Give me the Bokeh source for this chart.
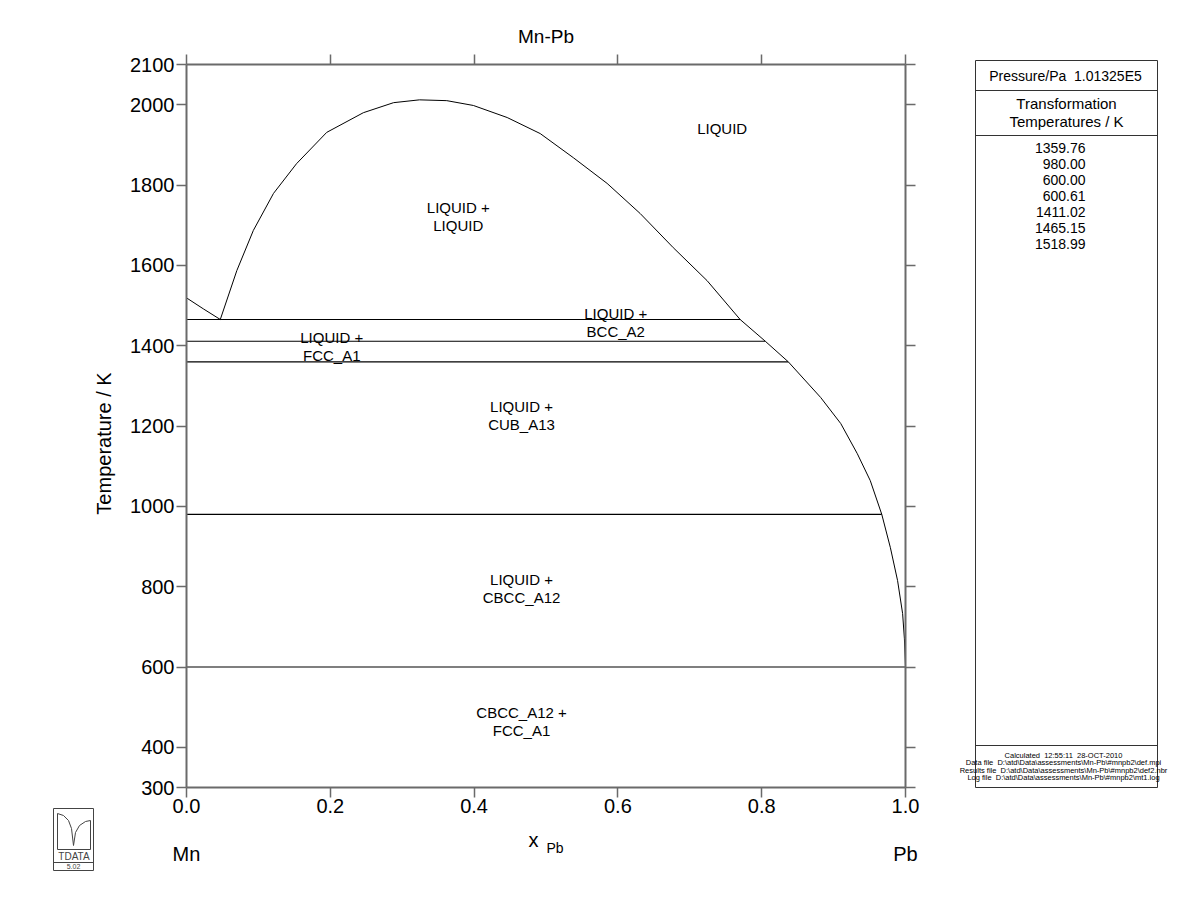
import math
from bokeh.plotting import figure
from bokeh.models import Range1d, LinearAxis, FixedTicker, PrintfTickFormatter
from bokeh.layouts import row, column
from bokeh.embed import file_html
from bokeh.resources import INLINE
from bokeh.core.properties import value

FONT = "Liberation Sans"

# ---------------- data ----------------
mn_liq_x = [0.0, 0.024, 0.047]
mn_liq_T = [1518.99, 1491.0, 1465.15]

gap_x = [0.047, 0.070, 0.093, 0.121, 0.153, 0.195, 0.246, 0.288, 0.324, 0.362,
         0.399, 0.446, 0.492, 0.538, 0.585, 0.631, 0.677, 0.724, 0.770]
gap_T = [1465.15, 1587, 1687, 1779, 1853, 1931, 1980, 2005, 2012, 2010,
         1998, 1968, 1928, 1868, 1804, 1729, 1644, 1562, 1465.15]

pb_liq_x = [0.770, 0.805, 0.837, 0.882, 0.910, 0.933, 0.951, 0.967, 0.979,
            0.989, 0.996, 0.9985, 1.0]
pb_liq_T = [1465.15, 1411.02, 1359.76, 1271, 1206, 1131, 1064, 980.0, 897,
            815, 733, 670, 600.61]

inv_T = [1465.15, 1411.02, 1359.76, 980.00, 600.00]
inv_x_start = [0.0, 0.0, 0.0, 0.0, 0.0]
inv_x_end = [0.770, 0.805, 0.837, 0.967, 1.0]

pb_side_x = [1.0, 1.0]
pb_side_T = [300.0, 600.0]

region_labels = ["LIQUID", "LIQUID +\nLIQUID", "LIQUID +\nBCC_A2", "LIQUID +\nFCC_A1",
                 "LIQUID +\nCUB_A13", "LIQUID +\nCBCC_A12", "CBCC_A12 +\nFCC_A1"]
region_x = [0.745, 0.378, 0.597, 0.202, 0.466, 0.466, 0.466]
region_T = [1941, 1722, 1458, 1397, 1227, 795, 464]

x_ticks = [0.0, 0.2, 0.4, 0.6, 0.8, 1.0]
T_ticks = [300, 400, 600, 800, 1000, 1200, 1400, 1600, 1800, 2000, 2100]
x_min, x_max = 0.0, 1.0
T_min, T_max = 300, 2100

components = ["Mn", "Pb"]
trans_temps = [1359.76, 980.00, 600.00, 600.61, 1411.02, 1465.15, 1518.99]
pressure_text = "Pressure/Pa\u00a0\u00a01.01325E5"
info_lines = ["Calculated\u00a0\u00a012:55:11\u00a0\u00a028-OCT-2010",
              "Data file\u00a0\u00a0D:\\atd\\Data\\assessments\\Mn-Pb\\#mnpb2\\def.mpi",
              "Results file\u00a0\u00a0D:\\atd\\Data\\assessments\\Mn-Pb\\#mnpb2\\def2.nbr",
              "Log file\u00a0\u00a0D:\\atd\\Data\\assessments\\Mn-Pb\\#mnpb2\\mt1.log"]

AXC = "#6a6a6a"
BL, BR, BT, BB = 66, 50, 64, 34   # borders of the diagram figure
FW = 719                          # frame width
TOP_H = 64 + 723 + BB             # height of the diagram figure
BOT_H = 923 - TOP_H


def no_align(fig):
    if "frame_align" in fig.properties():
        fig.frame_align = False


# ---------------- main diagram ----------------
p = figure(width=BL + FW + BR, height=TOP_H, x_range=Range1d(x_min, x_max),
           y_range=Range1d(T_min, T_max),
           output_backend="svg", toolbar_location=None,
           min_border_left=BL, min_border_right=BR, min_border_top=BT, min_border_bottom=BB)
no_align(p)
p.outline_line_color = None
p.grid.visible = False
p.background_fill_color = "white"
p.border_fill_color = "white"
p.title.text = "Mn-Pb"
p.title.align = "center"
p.title.text_font = FONT
p.title.text_font_size = "19px"
p.title.text_font_style = "normal"
p.title.text_color = "black"
p.title.standoff = 16

p.add_layout(LinearAxis(), "above")
p.add_layout(LinearAxis(), "right")

for ax in p.xaxis:
    ax.ticker = FixedTicker(ticks=x_ticks)
    ax.formatter = PrintfTickFormatter(format="%.1f")
for ax in p.yaxis:
    ax.ticker = FixedTicker(ticks=T_ticks)
for ax in p.axis:
    ax.axis_line_color = AXC
    ax.axis_line_width = 2
    ax.major_tick_line_color = AXC
    ax.major_tick_line_width = 1.5
    ax.major_tick_in = 0
    ax.major_tick_out = 10
    ax.minor_tick_line_color = None
    ax.major_label_standoff = 2
    ax.major_label_text_font = FONT
    ax.major_label_text_font_size = "20px"
    ax.major_label_text_color = "black"
p.below[0].major_label_standoff = 1
for ax in (p.above[0], p.right[0]):
    ax.major_label_text_color = None
    ax.major_label_text_font_size = "0px"
    ax.major_label_standoff = 0

p.line(mn_liq_x, mn_liq_T, line_color="black", line_width=1)
p.line(gap_x, gap_T, line_color="black", line_width=1)
p.line(pb_liq_x, pb_liq_T, line_color="black", line_width=1)
p.segment(x0=inv_x_start, y0=inv_T, x1=inv_x_end, y1=inv_T, line_color="black", line_width=1.1)
p.line(pb_side_x, pb_side_T, line_color="black", line_width=1)

p.text(x=region_x, y=region_T, text=region_labels, text_align="center",
       text_baseline="middle", text_font=value(FONT), text_font_size="15px",
       text_line_height=1.05, text_color="black")

# ---------------- strip below the diagram: x label and component names ----------------
Y0 = TOP_H  # page y of the strip's top edge
bf = figure(width=BL + FW + BR, height=BOT_H,
            x_range=Range1d(x_min - BL / FW * (x_max - x_min), x_max + BR / FW * (x_max - x_min)),
            y_range=Range1d(923, Y0), output_backend="svg", toolbar_location=None,
            x_axis_type=None, y_axis_type=None, min_border=0)
no_align(bf)
bf.outline_line_color = None
bf.grid.visible = False
bf.text(x=[x_min, x_max], y=[853, 853], text=components, text_align="center",
        text_baseline="middle", text_font=value(FONT), text_font_size="20px", text_color="black")
bf.text(x=[0.4826], y=[839.5], text=["x"], text_align="center", text_baseline="alphabetic",
        text_font=value(FONT), text_font_size="20px", text_color="black")
bf.text(x=[0.5007], y=[847.5], text=["Pb"], text_align="left", text_baseline="alphabetic",
        text_font=value(FONT), text_font_size="14px", text_color="black")

# ---------------- left strip: axis title + logo ----------------
lf = figure(width=120, height=923, x_range=Range1d(0, 120), y_range=Range1d(923, 0),
            output_backend="svg", toolbar_location=None, x_axis_type=None, y_axis_type=None,
            min_border=0)
no_align(lf)
lf.outline_line_color = None
lf.grid.visible = False
lf.text(x=[103], y=[443], text=["Temperature / K"], angle=math.pi / 2, text_align="center",
        text_baseline="middle", text_font=value(FONT), text_font_size="20px", text_color="black")
LG = "#444444"
lf.quad(left=[53], right=[93], top=[808], bottom=[870], fill_color=None, line_color=LG, line_width=1)
lf.segment(x0=[53, 57, 90, 57], y0=[862, 813, 820, 849], x1=[93, 57, 90, 90], y1=[862, 849, 849, 849],
           line_color=LG, line_width=1)
lf.line([57, 63, 68, 71, 73], [813, 815, 820, 828, 845], line_color=LG, line_width=1)
lf.line([73, 75, 79, 85, 90], [845, 832, 825, 821, 820], line_color=LG, line_width=1)
lf.text(x=[73.5], y=[855.5], text=["TDATA"], text_align="center", text_baseline="middle",
        text_font=value(FONT), text_font_size="10px", text_color=LG)
lf.text(x=[73], y=[866], text=["5.02"], text_align="center", text_baseline="middle",
        text_font=value(FONT), text_font_size="7px", text_color=LG)

# ---------------- right side panel ----------------
sf = figure(width=245, height=923, x_range=Range1d(0, 245), y_range=Range1d(923, 0),
            output_backend="svg", toolbar_location=None, x_axis_type=None, y_axis_type=None,
            min_border=0)
no_align(sf)
sf.outline_line_color = None
sf.grid.visible = False
PC = "#333333"
sf.quad(left=[20], right=[202], top=[60], bottom=[787], fill_color=None, line_color=PC, line_width=1)
sf.segment(x0=[20, 20, 20], y0=[90, 135, 745], x1=[202, 202, 202], y1=[90, 135, 745],
           line_color=PC, line_width=1)
sf.text(x=[110], y=[75], text=[pressure_text], text_align="center", text_baseline="middle",
        text_font=value(FONT), text_font_size="14px", text_color="black")
sf.text(x=[111, 111], y=[103, 121], text=["Transformation", "Temperatures / K"],
        text_align="center", text_baseline="middle",
        text_font=value(FONT), text_font_size="15px", text_color="black")
sf.text(x=[130] * len(trans_temps), y=[147 + 16 * i for i in range(len(trans_temps))],
        text=[f"{v:.2f}" for v in trans_temps], text_align="right", text_baseline="middle",
        text_font=value(FONT), text_font_size="14px", text_color="black")
sf.text(x=[108] * len(info_lines), y=[755 + 7.3 * i for i in range(len(info_lines))],
        text=info_lines, text_align="center", text_baseline="middle",
        text_font=value(FONT), text_font_size="7.5px", text_color="black")

layout = row(lf, column(p, bf, spacing=0), sf, spacing=0)
open("out.html", "w").write(file_html(layout, INLINE))
